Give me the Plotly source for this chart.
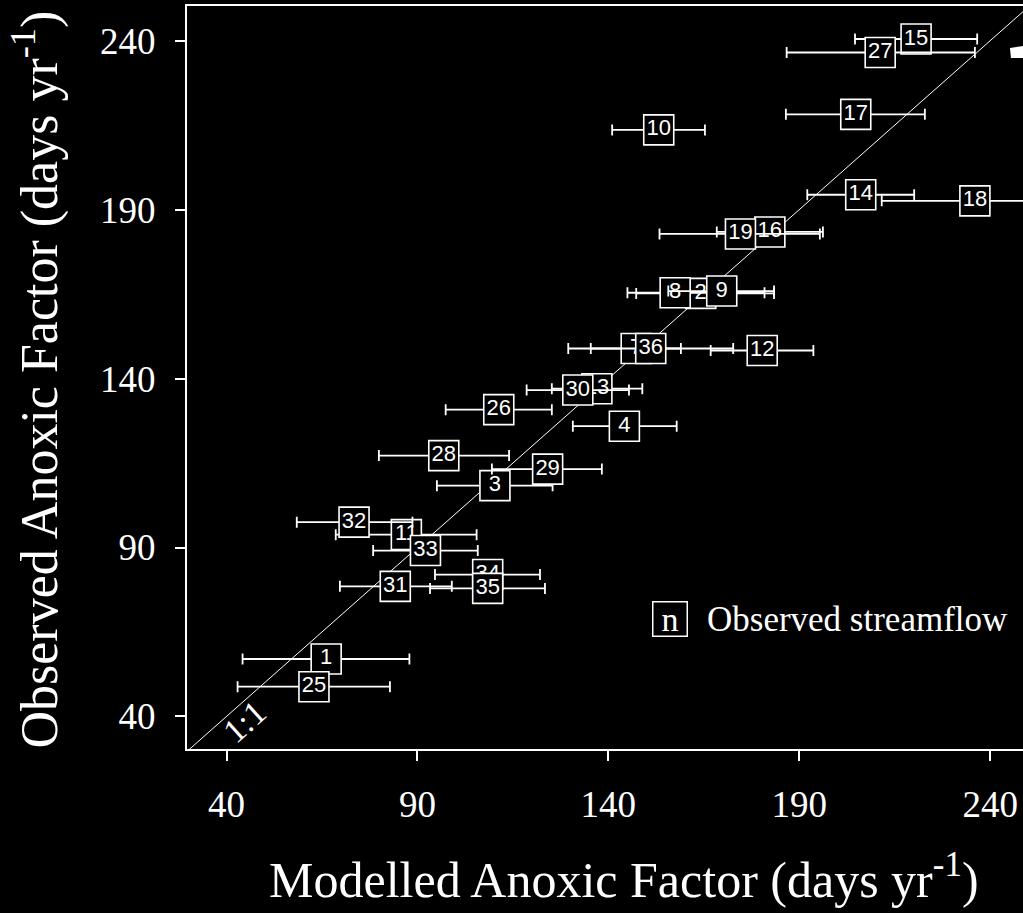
import plotly.graph_objects as go

# Site numbers with modelled vs observed anoxic factor (days per year)
site = [1, 2, 3, 4, 7, 8, 9, 10, 11, 12, 13, 14, 15, 16, 17, 18, 19,
        25, 26, 27, 28, 29, 30, 31, 32, 33, 34, 35, 36]
modelled = [66.1, 164.2, 110.3, 144.2, 147.3, 157.5, 169.7, 153.2, 87.1, 180.3,
            137.0, 206.1, 220.6, 182.3, 204.8, 236.0, 174.6,
            62.9, 111.3, 211.2, 96.9, 124.1, 132.0, 84.2, 73.4, 92.1, 108.4, 108.4, 151.1]
observed = [57.0, 165.2, 108.3, 125.9, 148.9, 165.4, 165.9, 213.6, 93.8, 148.3,
            137.0, 194.4, 240.5, 183.4, 218.2, 192.6, 182.8,
            48.8, 130.8, 236.5, 117.2, 113.2, 136.6, 78.5, 97.5, 89.1, 82.0, 77.9, 148.9]
modelled_low = [44.2, 147.3, 95.1, 130.7, 129.5, 145.0, 155.7, 141.0, 68.6, 166.8,
                125.2, 192.1, 204.6, 168.4, 186.5, 211.6, 153.4,
                42.9, 97.4, 186.7, 79.9, 109.5, 118.6, 69.7, 58.4, 78.4, 94.6, 93.3, 135.4]
modelled_high = [87.9, 183.4, 125.4, 157.9, 159.0, 180.9, 183.4, 165.3, 105.5, 193.7,
                 148.9, 220.1, 236.6, 196.2, 222.9, 262.0, 195.4,
                 82.8, 125.2, 236.0, 114.0, 138.3, 145.4, 99.0, 88.7, 105.8, 122.1, 123.4, 172.7]

tick_vals = [40, 90, 140, 190, 240]
x_range = [29.65, 248.6]
y_range = [30.36, 250.27]

SERIF = "Liberation Serif, Times New Roman, serif"
SANS = "Liberation Sans, Arial, sans-serif"

fig = go.Figure()

# 1:1 reference line
fig.add_trace(go.Scatter(
    x=[0, 300], y=[0, 300], mode="lines",
    line=dict(color="white", width=1), hoverinfo="skip", showlegend=False,
))

# one trace per site so later sites overlay earlier ones
for s, xm, yo, lo, hi in zip(site, modelled, observed, modelled_low, modelled_high):
    fig.add_trace(go.Scatter(
        x=[xm], y=[yo], mode="markers+text",
        text=[str(s)], textposition="middle center",
        textfont=dict(family=SANS, size=22, color="white"),
        marker=dict(symbol="square", size=30, color="black",
                    line=dict(color="white", width=1.6)),
        error_x=dict(type="data", symmetric=False,
                     array=[hi - xm], arrayminus=[xm - lo],
                     color="white", thickness=1.8, width=5.5),
        showlegend=False, name=str(s),
    ))

axis_common = dict(
    showgrid=False, zeroline=False, showline=True, linecolor="white", linewidth=2,
    ticks="outside", ticklen=10, tickwidth=2, tickcolor="white",
    tickvals=tick_vals, tickfont=dict(family=SERIF, size=37, color="white"),
)

fig.update_layout(
    width=1023, height=913,
    paper_bgcolor="black", plot_bgcolor="black",
    margin=dict(l=187, r=0, t=6, b=164),
    xaxis=dict(range=x_range, mirror=True, ticklabelstandoff=12, **axis_common),
    yaxis=dict(range=y_range, ticklabelstandoff=12, **axis_common),
    showlegend=False,
)

annotations = [
    dict(text="Modelled Anoxic Factor (days yr<sup>-1</sup>)",
         xref="paper", yref="paper", x=0.5227, y=-0.172,
         xanchor="center", yanchor="middle", showarrow=False,
         font=dict(family=SERIF, size=50, color="white")),
    dict(text="Observed Anoxic Factor (days yr<sup>-1</sup>)",
         xref="paper", yref="paper", x=-0.180, y=0.4966,
         xanchor="center", yanchor="middle", textangle=-90, showarrow=False,
         font=dict(family=SERIF, size=52, color="white")),
    dict(text="1:1", xref="x", yref="y", x=44.8, y=38.4, textangle=-42,
         showarrow=False, font=dict(family=SERIF, size=34, color="white")),
    dict(text="n", xref="paper", yref="paper", x=0.5783, y=0.1743,
         xanchor="center", yanchor="middle", showarrow=False,
         width=33, height=33, bordercolor="white", borderwidth=1.5, borderpad=0,
         font=dict(family=SERIF, size=34, color="white")),
    dict(text="Observed streamflow", xref="paper", yref="paper", x=0.6196, y=0.1743,
         xanchor="left", yanchor="middle", showarrow=False,
         font=dict(family=SERIF, size=35, color="white")),
]
fig.update_layout(annotations=annotations)

# partial panel mark at the upper right edge
fig.add_shape(type="path", xref="paper", yref="paper",
              path="M 0.9844 0.9435 L 1.0 0.9462 L 1.0 0.930 L 0.9856 0.930 Z",
              fillcolor="white", line=dict(width=0))

fig.write_html("out.html")
